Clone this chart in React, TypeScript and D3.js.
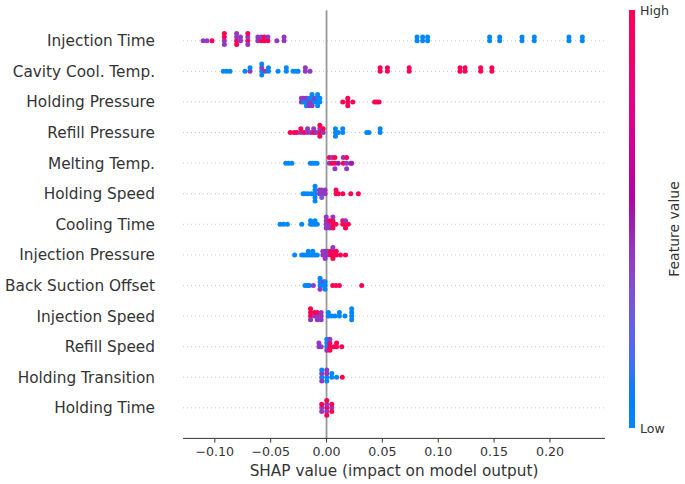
import React from 'react';
import * as d3 from 'd3';

const features = [
  'Injection Time', 'Cavity Cool. Temp.', 'Holding Pressure', 'Refill Pressure',
  'Melting Temp.', 'Holding Speed', 'Cooling Time', 'Injection Pressure',
  'Back Suction Offset', 'Injection Speed', 'Refill Speed', 'Holding Transition', 'Holding Time',
];

// [shap value, normalized feature value (0 = low, 1 = high)]
const injectionTime: [number, number][] = [
  [-0.1105, 0.42], [-0.107, 0.42], [-0.1025, 1],
  [-0.0915, 0.42], [-0.0915, 1], [-0.0915, 0.42], [-0.0915, 1],
  [-0.0805, 1], [-0.0805, 0.42], [-0.0805, 1], [-0.0805, 0.42],
  [-0.077, 0.42], [-0.077, 0.42],
  [-0.0705, 1], [-0.0705, 0.42], [-0.0705, 0.42], [-0.0705, 1],
  [-0.0615, 0.42], [-0.0615, 0.42], [-0.0585, 1], [-0.0585, 0.42], [-0.0555, 1], [-0.0555, 1],
  [-0.0525, 1], [-0.0525, 0.42], [-0.0445, 0.42], [-0.038, 0.42], [-0.038, 0.42],
  [0.081, 0], [0.081, 0], [0.086, 0], [0.086, 0], [0.0905, 0], [0.0905, 0],
  [0.146, 0], [0.146, 0], [0.155, 0], [0.155, 0], [0.175, 0], [0.175, 0],
  [0.186, 0], [0.186, 0], [0.217, 0], [0.217, 0], [0.229, 0], [0.229, 0],
];
const cavityCoolTemp: [number, number][] = [
  [-0.0924, 0], [-0.0894, 0], [-0.0864, 0],
  [-0.073, 0], [-0.0685, 0.42], [-0.0685, 0],
  [-0.058, 0], [-0.058, 0.42], [-0.058, 0], [-0.058, 0],
  [-0.055, 0.42], [-0.052, 0], [-0.052, 0],
  [-0.0434, 0], [-0.036, 0], [-0.036, 0],
  [-0.030, 0], [-0.0275, 0], [-0.0255, 0],
  [-0.019, 0.42], [-0.019, 0.42], [-0.0148, 0.42],
  [0.048, 1], [0.048, 1], [0.0545, 1], [0.0545, 1], [0.074, 1], [0.074, 1],
  [0.1195, 1], [0.1195, 1], [0.124, 1], [0.124, 1], [0.138, 1], [0.138, 1], [0.148, 1], [0.148, 1],
];
const holdingPressure: [number, number][] = [
  [-0.0225, 0.42], [-0.0225, 0.42], [-0.0205, 0], [-0.0205, 0.42],
  [-0.018, 0], [-0.018, 0.42], [-0.018, 0],
  [-0.0155, 0.42], [-0.0155, 0], [-0.0155, 0.42],
  [-0.013, 0.42], [-0.013, 0], [-0.013, 0.42], [-0.013, 0],
  [-0.0105, 0], [-0.0105, 0.42],
  [-0.008, 0], [-0.008, 0], [-0.008, 0], [-0.008, 0],
  [-0.006, 0], [-0.006, 0],
  [0.0145, 1], [0.019, 1], [0.019, 1], [0.019, 1], [0.0235, 1],
  [0.043, 1], [0.045, 1], [0.047, 1],
];
const refillPressure: [number, number][] = [
  [-0.0325, 1], [-0.029, 1], [-0.0265, 1],
  [-0.023, 0.42], [-0.023, 1], [-0.020, 1], [-0.017, 0.42], [-0.017, 0.42], [-0.014, 0.42],
  [-0.0115, 1], [-0.0115, 0.42], [-0.009, 0.42],
  [-0.006, 1], [-0.006, 0.42], [-0.006, 1], [-0.006, 1],
  [-0.003, 0.42], [-0.003, 1],
  [0.008, 0], [0.008, 0], [0.008, 0], [0.0105, 0],
  [0.0145, 0], [0.0145, 0],
  [0.036, 0], [0.038, 0], [0.048, 0], [0.048, 0],
];
const meltingTemp: [number, number][] = [
  [-0.0365, 0], [-0.034, 0], [-0.031, 0],
  [-0.0145, 0], [-0.0125, 0], [-0.0105, 0], [-0.0085, 0],
  [0.0025, 0.42], [0.0025, 1], [0.005, 1], [0.005, 0.42],
  [0.0075, 1], [0.0075, 1], [0.0075, 0.42], [0.0105, 0.5],
  [0.015, 1], [0.015, 0.42], [0.018, 0.42], [0.018, 1], [0.018, 0.42], [0.0215, 0.42], [0.0225, 0.5],
];
const holdingSpeed: [number, number][] = [
  [-0.021, 0], [-0.019, 0], [-0.0165, 0], [-0.0135, 0],
  [-0.0103, 0], [-0.0103, 0], [-0.0103, 0], [-0.0103, 0], [-0.0103, 0],
  [-0.0063, 0.42], [-0.0063, 0.42], [-0.0043, 0.42], [-0.0043, 0.42], [-0.0043, 0.3],
  [-0.0013, 0.42], [-0.0013, 0.42],
  [0.0085, 1], [0.0085, 1], [0.0105, 1], [0.0145, 1], [0.0217, 1], [0.0285, 1],
];
const coolingTime: [number, number][] = [
  [-0.0416, 0], [-0.0385, 0], [-0.0351, 0], [-0.0222, 0],
  [-0.0143, 0], [-0.0143, 0], [-0.0123, 0], [-0.0103, 0], [-0.0103, 0], [-0.0083, 0],
  [-0.0003, 0.42], [-0.0003, 0.42], [-0.0003, 0.42], [-0.0003, 0.42],
  [0.0027, 0.42], [0.0027, 1], [0.0027, 0.42],
  [0.0057, 1], [0.0057, 1], [0.0057, 1], [0.0057, 0.42],
  [0.0085, 1],
  [0.0145, 1], [0.0145, 1], [0.017, 1], [0.017, 0.42], [0.017, 1], [0.0195, 1],
];
const injectionPressure: [number, number][] = [
  [-0.0285, 0],
  [-0.0222, 0], [-0.0203, 0], [-0.0183, 0], [-0.0163, 0], [-0.0163, 0], [-0.0143, 0],
  [-0.0123, 0], [-0.0123, 0], [-0.0103, 0], [-0.0083, 0],
  [-0.0033, 0.42], [-0.0033, 0.42], [-0.0013, 0.42], [-0.0013, 0.42], [-0.0013, 0.42],
  [0.0007, 0.42], [0.0007, 0.42],
  [0.0037, 1], [0.0037, 1], [0.0057, 1], [0.0057, 1], [0.0057, 1], [0.0057, 0.42],
  [0.0087, 1], [0.0087, 1], [0.0125, 1], [0.017, 1],
];
const backSuctionOffset: [number, number][] = [
  [-0.0193, 0], [-0.0173, 0], [-0.0153, 0], [-0.0118, 0.42],
  [-0.0058, 0], [-0.0058, 0], [-0.0058, 0.42], [-0.0058, 0],
  [-0.0028, 0], [-0.0028, 0.42], [-0.0013, 0], [-0.0013, 0], [-0.0013, 0],
  [0.0055, 1], [0.0085, 1], [0.0115, 1], [0.0315, 1],
];
const injectionSpeed: [number, number][] = [
  [-0.0143, 1], [-0.0143, 1], [-0.0143, 0.42], [-0.0143, 1],
  [-0.0108, 0.42], [-0.0108, 1],
  [-0.0083, 0.42], [-0.0083, 1], [-0.0083, 0.42],
  [-0.0048, 0.42], [-0.0048, 0.42], [-0.0048, 0.42],
  [0.0016, 0], [0.0016, 0], [0.0045, 0], [0.0075, 0], [0.0115, 0], [0.0115, 0], [0.0165, 0],
  [0.0225, 0], [0.0225, 0], [0.0225, 0], [0.0225, 0],
];
const refillSpeed: [number, number][] = [
  [-0.0068, 0.42], [-0.0068, 0.42], [-0.0048, 0.42],
  [0.0002, 0], [0.0002, 0], [0.0002, 0.42], [0.0002, 0],
  [0.003, 1], [0.003, 1], [0.003, 1], [0.003, 0.42],
  [0.0065, 1], [0.009, 1], [0.009, 1], [0.0136, 1],
];
const holdingTransition: [number, number][] = [
  [-0.0043, 0], [-0.0043, 0.42], [-0.0043, 0.42], [-0.0043, 0],
  [0.0002, 0], [0.0002, 0.42], [0.0002, 0], [0.0002, 0.42],
  [0.0047, 0], [0.0047, 0], [0.009, 0], [0.0141, 1],
];
const holdingTime: [number, number][] = [
  [-0.0043, 0.42], [-0.0043, 1], [-0.0043, 0.42],
  [0.0002, 1], [0.0002, 0.42], [0.0002, 0.42], [0.0002, 1], [0.0002, 1],
  [0.0047, 0.42], [0.0047, 1], [0.0047, 1],
];

const rows = [
  injectionTime, cavityCoolTemp, holdingPressure, refillPressure, meltingTemp, holdingSpeed,
  coolingTime, injectionPressure, backSuctionOffset, injectionSpeed, refillSpeed, holdingTransition, holdingTime,
];

const xTicks = [-0.1, -0.05, 0, 0.05, 0.1, 0.15, 0.2];
const xDomain = [-0.1285, 0.2493];
const xLabel = 'SHAP value (impact on model output)';
const cbLabels = ['Low', 'High'];
const cbTitle = 'Feature value';

const W = 685, H = 484;
const plotLeft = 183, plotRight = 605, plotTop = 10.2, plotBottom = 438.4;
const FONT = 'DejaVu Sans, Verdana, sans-serif';

const x = d3.scaleLinear().domain(xDomain).range([plotLeft, plotRight]);
const y = d3.scaleLinear().domain([-1, features.length]).range([plotBottom, plotTop]);

function cmap(t: number): string {
  const L = t < 0.5 ? 54 + (40 - 54) * (t / 0.5) : 40 + (54 - 40) * ((t - 0.5) / 0.5);
  const C = 70 + 20 * t;
  const Hh = (266.93 + t * (380.32 - 266.93)) % 360;
  return d3.lch(L, C, Hh).formatRgb();
}

function swarm(vals: number[]): number[] {
  const n = vals.length;
  const mn = d3.min(vals) as number, mx = d3.max(vals) as number;
  const quant = vals.map(v => Math.round(100 * (v - mn) / (mx - mn + 1e-8)));
  const inds = d3.range(n).sort((a, b) => quant[a] - quant[b] || a - b);
  const ys = new Array(n).fill(0);
  let layer = 0, last = -1;
  for (const i of inds) {
    if (quant[i] !== last) layer = 0;
    ys[i] = Math.ceil(layer / 2) * ((layer % 2) * 2 - 1);
    layer++;
    last = quant[i];
  }
  const m = d3.max(ys.map(v => v + 1)) as number;
  return ys.map(v => v * 0.9 * (0.4 / m));
}

const cbX = 629, cbW = 6, cbTop = 10, cbBottom = 428;
const cbScale = d3.scaleLinear().domain([0, 1]).range([cbBottom, cbTop]);
const fmt = d3.format('.2f');

export default function App() {
  const nF = features.length;
  const stops = d3.range(0, 1.0001, 0.05);
  return (
    <svg width={W} height={H} style={{ position: 'absolute', left: 0, top: 0, background: '#fff' }}
      fontFamily={FONT}>
      <defs>
        <linearGradient id="cb" x1="0" y1="1" x2="0" y2="0">
          {stops.map((s, i) => <stop key={i} offset={s} stopColor={cmap(s)} />)}
        </linearGradient>
      </defs>
      <rect x={0} y={0} width={W} height={H} fill="#fff" />
      {features.map((f, i) => (
        <line key={'g' + i} x1={plotLeft} x2={plotRight} y1={y(nF - 1 - i)} y2={y(nF - 1 - i)}
          stroke="#bbbbbb" strokeWidth={0.8} strokeDasharray="1 3" />
      ))}
      <line x1={x(0)} x2={x(0)} y1={plotTop} y2={plotBottom} stroke="#999999" strokeWidth={1.8} />
      {rows.map((row, i) => {
        const pos = nF - 1 - i;
        const ys = swarm(row.map(d => d[0]));
        return (
          <g key={'r' + i}>
            {row.map((d, j) => (
              <circle key={j} cx={x(d[0])} cy={y(pos + ys[j])} r={2.5} fill={cmap(d[1])} />
            ))}
          </g>
        );
      })}
      {features.map((f, i) => (
        <text key={'l' + i} x={155} y={y(nF - 1 - i)} dy="0.36em" textAnchor="end"
          fontSize={15.3} fill="#333333">{f}</text>
      ))}
      <line x1={plotLeft} x2={plotRight} y1={plotBottom} y2={plotBottom} stroke="#333333" strokeWidth={1} />
      {xTicks.map((t, i) => (
        <g key={'t' + i}>
          <line x1={x(t)} x2={x(t)} y1={plotBottom} y2={plotBottom + 4.1} stroke="#333333" strokeWidth={1} />
          <text x={x(t)} y={456} textAnchor="middle" fontSize={12.6} fill="#333333">{fmt(t)}</text>
        </g>
      ))}
      <text x={(plotLeft + plotRight) / 2} y={476} textAnchor="middle" fontSize={15.3} fill="#333333">{xLabel}</text>
      <rect x={cbX} y={cbTop} width={cbW} height={cbBottom - cbTop} fill="url(#cb)" />
      {cbLabels.map((l, i) => (
        <text key={'c' + i} x={cbX + cbW + 5} y={cbScale(i)} dy="0.36em" fontSize={12.6} fill="#333333">{l}</text>
      ))}
      <text transform={`translate(679,229) rotate(-90)`} textAnchor="middle" fontSize={14} fill="#333333">{cbTitle}</text>
    </svg>
  );
}
